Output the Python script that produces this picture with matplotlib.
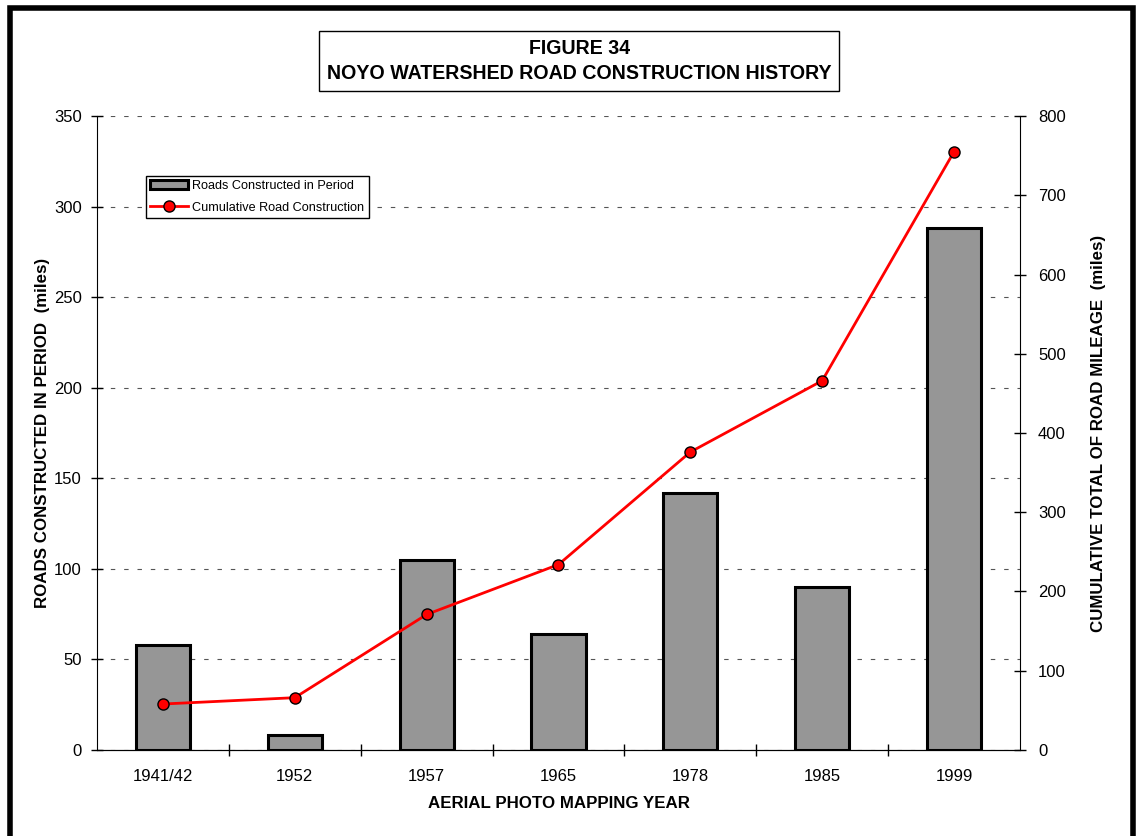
import matplotlib.pyplot as plt
from matplotlib.patches import Rectangle

plt.rcParams['font.family'] = ['Liberation Sans', 'DejaVu Sans']

years = ['1941/42', '1952', '1957', '1965', '1978', '1985', '1999']
period_miles = [58, 8, 105, 64, 142, 90, 288]
cumulative_miles = [58, 66, 171, 234, 376, 466, 755]

fig = plt.figure(figsize=(11.4, 8.36), dpi=100)
ax = fig.add_axes([0.0851, 0.1029, 0.8096, 0.7583])

# outer frame
fig.patches.append(Rectangle((0.009, -0.05), 0.985, 1.04, transform=fig.transFigure,
                             fill=False, edgecolor='black', linewidth=4))

x = range(len(years))
bars = ax.bar(x, period_miles, width=0.41, color='#969696', edgecolor='black',
              linewidth=2.2, label='Roads Constructed in Period', zorder=3)
ax.set_xlim(-0.5, 6.5)
ax.set_ylim(0, 350)
ax.set_yticks(range(0, 351, 50))
ax.set_xticks([i + 0.5 for i in range(6)], minor=False)
ax.set_xticks(list(x), minor=True)
ax.set_xticklabels([''] * 6)
ax.set_xticklabels(years, minor=True)
ax.tick_params(axis='x', which='major', direction='inout', length=8, width=1)
ax.tick_params(axis='x', which='minor', length=0, pad=14, labelsize=12)
ax.tick_params(axis='y', direction='inout', length=8, width=1, labelsize=12, pad=7)
ax.yaxis.grid(True, linestyle=(0, (4, 8)), color='#555555', linewidth=0.8, zorder=0)
ax.spines['top'].set_visible(False)
ax.spines['right'].set_visible(False)
ax.set_axisbelow(True)

ax2 = ax.twinx()
line, = ax2.plot(x, cumulative_miles, color='#ff0000', linewidth=2, marker='o',
                 markersize=8, markerfacecolor='#ff0000', markeredgecolor='black',
                 markeredgewidth=1, label='Cumulative Road Construction', zorder=4)
ax2.set_ylim(0, 800)
ax2.set_yticks(range(0, 801, 100))
ax2.tick_params(axis='y', direction='inout', length=8, width=1, labelsize=12, pad=9)
ax2.spines['top'].set_visible(False)
ax2.spines['left'].set_visible(False)

ax.set_ylabel('ROADS CONSTRUCTED IN PERIOD  (miles)', fontsize=12.2, fontweight='bold',
              va='center')
ax.yaxis.set_label_coords(-0.0596, 0.5)
ax2.set_ylabel('CUMULATIVE TOTAL OF ROAD MILEAGE  (miles)', fontsize=12.2, fontweight='bold',
               rotation=90, va='center')
ax2.yaxis.set_label_coords(1.0855, 0.5)
ax.set_xlabel('AERIAL PHOTO MAPPING YEAR', fontsize=12.2, fontweight='bold', va='center')
ax.xaxis.set_label_coords(0.5, -0.085)

leg = ax.legend([bars, line], ['Roads Constructed in Period', 'Cumulative Road Construction'],
                loc='upper left', bbox_to_anchor=(0.053, 0.906), fontsize=9.1, frameon=True,
                fancybox=False, edgecolor='black', framealpha=1, borderpad=0.35,
                handlelength=3, handletextpad=0.3, labelspacing=0.75, borderaxespad=0)
leg.get_frame().set_linewidth(1)

fig.text(0.508, 0.927, 'FIGURE 34\nNOYO WATERSHED ROAD CONSTRUCTION HISTORY',
         ha='center', va='center', fontsize=14.1, fontweight='bold', linespacing=1.4,
         bbox=dict(boxstyle='square,pad=0.4', facecolor='white', edgecolor='black', linewidth=1))

fig.savefig('out.png', dpi=100)
